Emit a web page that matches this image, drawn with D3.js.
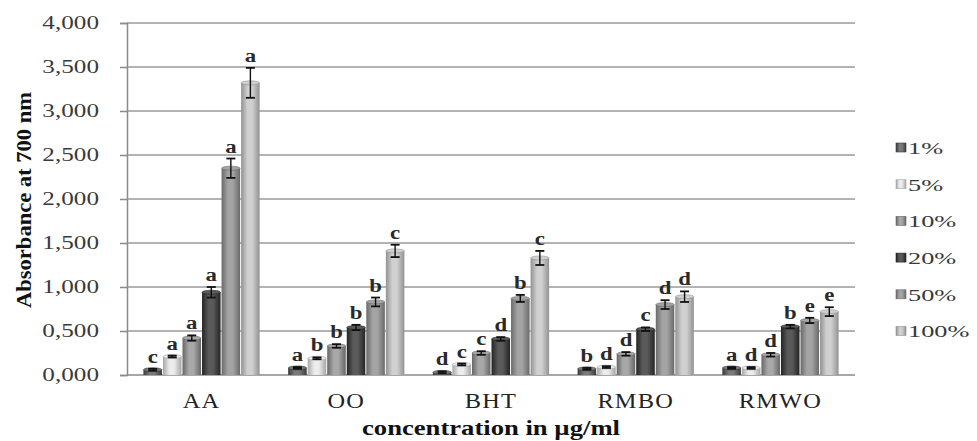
<!DOCTYPE html>
<html>
<head>
<meta charset="utf-8">
<script src="https://cdn.jsdelivr.net/npm/d3@7"></script>
<style>
  body { margin: 0; background: #fff; }
  svg { display: block; }
</style>
</head>
<body>
<div id="chart"></div>
<script>
// Data (decimal comma on the axis = decimal point)
const categories = ["AA", "OO", "BHT", "RMBO", "RMWO"];
const seriesNames = ["1%", "5%", "10%", "20%", "50%", "100%"];

const values1   = [0.06, 0.08, 0.03, 0.07, 0.08];
const values5   = [0.21, 0.19, 0.12, 0.09, 0.08];
const values10  = [0.42, 0.33, 0.25, 0.24, 0.23];
const values20  = [0.94, 0.54, 0.41, 0.52, 0.55];
const values50  = [2.35, 0.83, 0.87, 0.80, 0.62];
const values100 = [3.32, 1.41, 1.33, 0.89, 0.72];

const errors1   = [0.01, 0.01, 0.01, 0.01, 0.01];
const errors5   = [0.01, 0.01, 0.01, 0.01, 0.01];
const errors10  = [0.03, 0.02, 0.02, 0.02, 0.02];
const errors20  = [0.06, 0.03, 0.02, 0.02, 0.02];
const errors50  = [0.11, 0.05, 0.04, 0.05, 0.03];
const errors100 = [0.17, 0.07, 0.08, 0.06, 0.05];

const letters1   = ["c", "a", "d", "b", "a"];
const letters5   = ["a", "b", "c", "d", "d"];
const letters10  = ["a", "b", "c", "d", "d"];
const letters20  = ["a", "b", "d", "c", "b"];
const letters50  = ["a", "b", "b", "d", "e"];
const letters100 = ["a", "c", "c", "d", "e"];

const yTicks = [0, 0.5, 1, 1.5, 2, 2.5, 3, 3.5, 4];

const allValues = [values1, values5, values10, values20, values50, values100];
const allErrors = [errors1, errors5, errors10, errors20, errors50, errors100];
const allLetters = [letters1, letters5, letters10, letters20, letters50, letters100];

// bar colours: [edge, highlight]
const seriesColors = [
  ["#3a3a3a", "#7a7a7a"],
  ["#a6a6a6", "#ececec"],
  ["#666666", "#a8a8a8"],
  ["#242424", "#5a5a5a"],
  ["#6a6a6a", "#a4a4a4"],
  ["#929292", "#d0d0d0"]
];

const width = 977, height = 441;
const margin = { top: 23, right: 122, bottom: 66, left: 127 };
const serif = "'Liberation Serif', 'Times New Roman', serif";

const svg = d3.select("#chart").append("svg")
  .attr("width", width)
  .attr("height", height);

// gradients for cylinder look
const defs = svg.append("defs");
seriesColors.forEach((c, i) => {
  const g = defs.append("linearGradient")
    .attr("id", "grad" + i)
    .attr("x1", "0%").attr("x2", "100%").attr("y1", "0%").attr("y2", "0%");
  g.append("stop").attr("offset", "0%").attr("stop-color", c[0]);
  g.append("stop").attr("offset", "35%").attr("stop-color", c[1]);
  g.append("stop").attr("offset", "60%").attr("stop-color", c[1]);
  g.append("stop").attr("offset", "100%").attr("stop-color", c[0]);
});

const x0 = d3.scaleBand()
  .domain(categories)
  .range([margin.left, width - margin.right])
  .paddingInner(0.19)
  .paddingOuter(0.11);

const x1 = d3.scaleBand()
  .domain(seriesNames)
  .range([0, x0.bandwidth()])
  .padding(0);

const y = d3.scaleLinear()
  .domain([0, 4])
  .range([height - margin.bottom, margin.top]);

// gridlines
svg.append("g")
  .selectAll("line")
  .data(yTicks.slice(1))
  .enter()
  .append("line")
  .attr("x1", margin.left)
  .attr("x2", width - margin.right)
  .attr("y1", d => y(d))
  .attr("y2", d => y(d))
  .attr("stroke", "#9a9a9a")
  .attr("stroke-width", 1.5);

// y axis
const yAxis = svg.append("g")
  .attr("transform", `translate(${margin.left},0)`)
  .call(d3.axisLeft(y)
    .tickValues(yTicks)
    .tickSize(7)
    .tickPadding(13)
    .tickFormat(d => d3.format(".3f")(d).replace(".", ",")));
yAxis.select(".domain").attr("stroke", "#8a8a8a").attr("stroke-width", 1.5);
yAxis.selectAll(".tick line").attr("stroke", "#8a8a8a").attr("stroke-width", 1.5);
yAxis.selectAll(".tick text")
  .attr("font-family", serif)
  .attr("font-size", 18)
  .attr("fill", "#3a3a3a")
  .attr("transform", "scale(1.4,1)");

// baseline
svg.append("line")
  .attr("x1", margin.left)
  .attr("x2", width - margin.right)
  .attr("y1", y(0))
  .attr("y2", y(0))
  .attr("stroke", "#8a8a8a")
  .attr("stroke-width", 1.5);

// bars
const rows = [];
categories.forEach((cat, ci) => {
  seriesNames.forEach((s, si) => {
    rows.push({
      cat, s, si,
      value: allValues[si][ci],
      err: allErrors[si][ci],
      letter: allLetters[si][ci]
    });
  });
});

const barW = x1.bandwidth();
const bar = svg.append("g")
  .selectAll("g")
  .data(rows)
  .enter()
  .append("g")
  .attr("transform", d => `translate(${x0(d.cat) + x1(d.s)},0)`);

bar.append("rect")
  .attr("x", 0.5)
  .attr("width", barW - 1)
  .attr("y", d => y(d.value))
  .attr("height", d => y(0) - y(d.value))
  .attr("fill", d => `url(#grad${d.si})`);

// top cap
bar.append("ellipse")
  .attr("cx", barW / 2)
  .attr("cy", d => y(d.value))
  .attr("rx", barW / 2 - 0.5)
  .attr("ry", 2)
  .attr("fill", d => seriesColors[d.si][1])
  .attr("stroke", d => seriesColors[d.si][0])
  .attr("stroke-width", 0.6);

// error bars
const capW = 4.5;
bar.append("line")
  .attr("x1", barW / 2).attr("x2", barW / 2)
  .attr("y1", d => y(d.value + d.err))
  .attr("y2", d => y(d.value - d.err))
  .attr("stroke", "#111").attr("stroke-width", 1.4);
bar.append("line")
  .attr("x1", barW / 2 - capW).attr("x2", barW / 2 + capW)
  .attr("y1", d => y(d.value + d.err))
  .attr("y2", d => y(d.value + d.err))
  .attr("stroke", "#111").attr("stroke-width", 1.8);
bar.append("line")
  .attr("x1", barW / 2 - capW).attr("x2", barW / 2 + capW)
  .attr("y1", d => y(d.value - d.err))
  .attr("y2", d => y(d.value - d.err))
  .attr("stroke", "#111").attr("stroke-width", 1.8);

// letters
bar.append("text")
  .attr("transform", d => `translate(${barW / 2},${y(d.value + d.err) - 6}) scale(1.2,1)`)
  .attr("text-anchor", "middle")
  .attr("font-family", serif)
  .attr("font-weight", "bold")
  .attr("font-size", 19)
  .attr("fill", "#2a2a2a")
  .text(d => d.letter);

// category labels
svg.append("g")
  .selectAll("text")
  .data(categories)
  .enter()
  .append("text")
  .attr("transform", d => `translate(${x0(d) + x0.bandwidth() / 2},408) scale(1.22,1)`)
  .attr("text-anchor", "middle")
  .attr("font-family", serif)
  .attr("font-size", 20)
  .attr("letter-spacing", 1)
  .attr("fill", "#222")
  .text(d => d);

// axis titles
svg.append("text")
  .attr("x", (margin.left + width - margin.right) / 2)
  .attr("y", 435)
  .attr("text-anchor", "middle")
  .attr("font-family", serif)
  .attr("font-weight", "bold")
  .attr("font-size", 20)
  .attr("textLength", 258)
  .attr("lengthAdjust", "spacingAndGlyphs")
  .attr("fill", "#111")
  .text("concentration in µg/ml");

svg.append("text")
  .attr("transform", `translate(31,200) rotate(-90)`)
  .attr("text-anchor", "middle")
  .attr("font-family", serif)
  .attr("font-weight", "bold")
  .attr("font-size", 21)
  .attr("textLength", 216)
  .attr("lengthAdjust", "spacingAndGlyphs")
  .attr("fill", "#111")
  .text("Absorbance at 700 nm");

// legend
const legend = svg.append("g")
  .selectAll("g")
  .data(seriesNames)
  .enter()
  .append("g")
  .attr("transform", (d, i) => `translate(896,${148 + i * 36.7})`);

legend.append("rect")
  .attr("x", 0).attr("y", -5)
  .attr("width", 10).attr("height", 9)
  .attr("fill", (d, i) => `url(#grad${i})`)
  .attr("stroke", (d, i) => seriesColors[i][0])
  .attr("stroke-width", 0.6);

legend.append("text")
  .attr("transform", "translate(12,0) scale(1.55,1)")
  .attr("dy", "0.35em")
  .attr("font-family", serif)
  .attr("font-size", 17)
  .attr("fill", "#3a3a3a")
  .text(d => d);
</script>
</body>
</html>
